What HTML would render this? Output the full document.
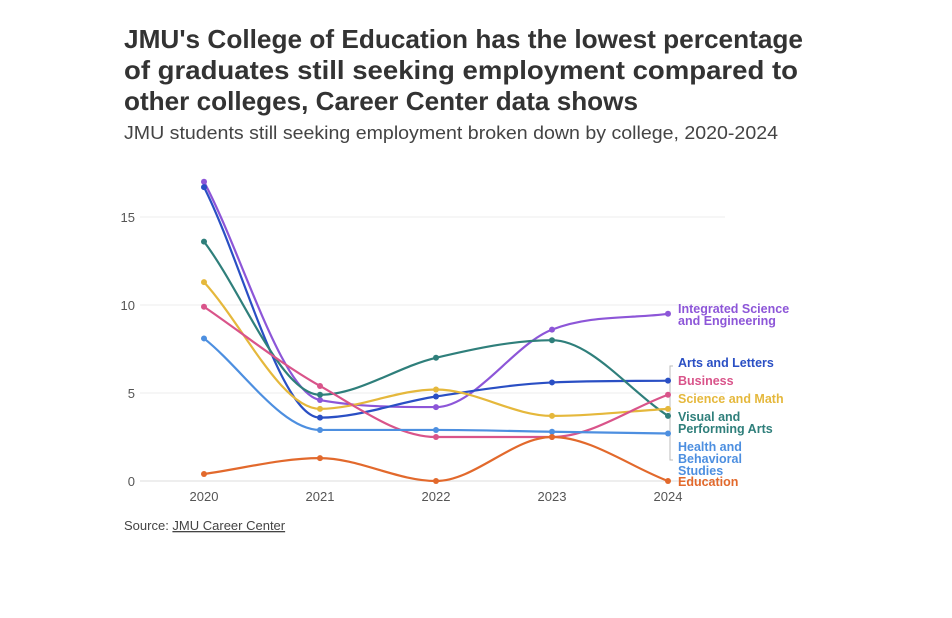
<!DOCTYPE html>
<html><head><meta charset="utf-8"><style>
body{margin:0;background:#fff;}
svg{display:block;font-family:"Liberation Sans",sans-serif;}
</style></head><body>
<svg id="c" width="952" height="618">
<g font-weight="bold" font-size="26" fill="#333">
<text x="124" y="48" textLength="679" lengthAdjust="spacingAndGlyphs">JMU's College of Education has the lowest percentage</text>
<text x="124" y="79" textLength="674" lengthAdjust="spacingAndGlyphs">of graduates still seeking employment compared to</text>
<text x="124" y="110" textLength="514" lengthAdjust="spacingAndGlyphs">other colleges, Career Center data shows</text>
</g>
<text x="124" y="139" font-size="18" fill="#444" textLength="654" lengthAdjust="spacingAndGlyphs">JMU students still seeking employment broken down by college, 2020-2024</text>
<text x="124" y="530" font-size="13" fill="#444">Source: <tspan text-decoration="underline">JMU Career Center</tspan></text>
<g id="plot"></g>
</svg>
<script>
const years=[2020,2021,2022,2023,2024];
const yTicks=[0,5,10,15];
const names=["Integrated Science and Engineering","Arts and Letters","Visual and Performing Arts","Science and Math","Business","Health and Behavioral Studies","Education"];
const ise=[17.0,4.6,4.2,8.6,9.5];
const arts=[16.7,3.6,4.8,5.6,5.7];
const vpa=[13.6,4.9,7.0,8.0,3.7];
const sci=[11.3,4.1,5.2,3.7,4.1];
const bus=[9.9,5.4,2.5,2.5,4.9];
const health=[8.1,2.9,2.9,2.8,2.7];
const edu=[0.4,1.3,0.0,2.5,0.0];
const series=[ise,arts,vpa,sci,bus,health,edu];
const colors=["#8d56d8","#2a4fc4","#2f7f7b","#e5b83c","#d9548a","#4d8fe0","#e2692c"];
const labelLines=[["Integrated Science","and Engineering"],["Arts and Letters"],["Visual and","Performing Arts"],["Science and Math"],["Business"],["Health and","Behavioral","Studies"],["Education"]];
const labelY=[313,367,421,403,385,451,486];
const X=y=>204+(y-2020)*116;
const Y=v=>481-v*17.6;
const NS="http://www.w3.org/2000/svg";
const g=document.getElementById('plot');
function el(t,a){const e=document.createElementNS(NS,t);for(const k in a)e.setAttribute(k,a[k]);g.appendChild(e);return e;}
yTicks.forEach(t=>{
 const l=el('line',{x1:140,x2:725,y1:Y(t),y2:Y(t),stroke:t===0?'#ddd':'#eee','stroke-width':1});
 
 
 const tx=el('text',{x:135,y:Y(t)+5,'text-anchor':'end','font-size':13,fill:'#555'});
 tx.textContent=t;
 
 
});
years.forEach(yr=>{
 const tx=el('text',{x:X(yr),y:501,'text-anchor':'middle','font-size':13,fill:'#555'});
 tx.textContent=yr;
 
 
});
function monotone(px,py){
 const n=px.length,d=[],m=[];
 for(let i=0;i<n-1;i++)d.push((py[i+1]-py[i])/(px[i+1]-px[i]));
 m[0]=d[0];m[n-1]=d[n-2];
 for(let i=1;i<n-1;i++){if(d[i-1]*d[i]<=0)m[i]=0;else m[i]=(d[i-1]+d[i])/2;}
 for(let i=0;i<n-1;i++){if(d[i]===0){m[i]=0;m[i+1]=0;continue;}
  const a=m[i]/d[i],b=m[i+1]/d[i],s=a*a+b*b;if(s>9){const t=3/Math.sqrt(s);m[i]=t*a*d[i];m[i+1]=t*b*d[i];}}
 let p='M'+px[0]+','+py[0];
 for(let i=0;i<n-1;i++){const h=(px[i+1]-px[i])/3;p+=`C${px[i]+h},${py[i]+m[i]*h} ${px[i+1]-h},${py[i+1]-m[i+1]*h} ${px[i+1]},${py[i+1]}`;}
 return p;
}
const br=el('path',{d:'M673,366 L670,366 L670,460 L673,460',fill:'none',stroke:'#bbb','stroke-width':1});


series.forEach((s,k)=>{
 const px=years.map(X),py=s.map(Y);
 const p=el('path',{d:monotone(px,py),fill:'none',stroke:colors[k],'stroke-width':2.2});
 
 
 s.forEach((v,i)=>{
  const c=el('circle',{cx:X(years[i]),cy:Y(v),r:3,fill:colors[k]});
  
  
 });
 const t=el('text',{x:678,y:labelY[k],'font-size':12.5,'font-weight':'bold',fill:colors[k]});
 
 
 labelLines[k].forEach((ln,j)=>{const ts=document.createElementNS(NS,'tspan');ts.setAttribute('x',678);ts.setAttribute('dy',j?12:0);ts.textContent=ln;t.appendChild(ts);});
});
</script>
</body></html>
